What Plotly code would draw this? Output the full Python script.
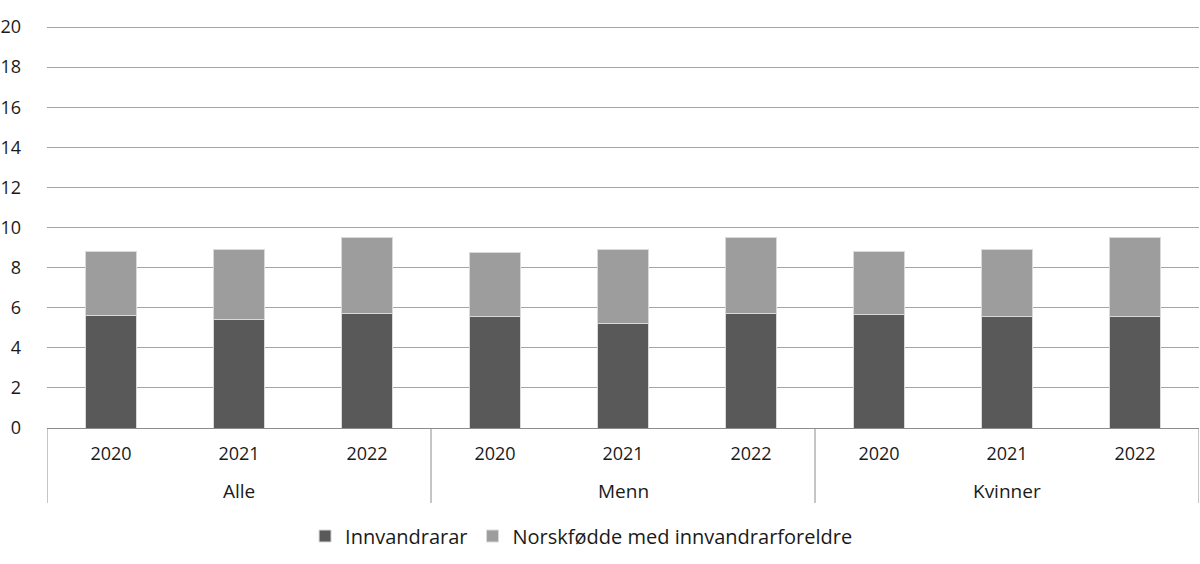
import plotly.graph_objects as go

groups = ["Alle", "Menn", "Kvinner"]
years = ["2020", "2021", "2022"]
innvandrarar = [5.62, 5.4, 5.7, 5.57, 5.2, 5.7, 5.65, 5.58, 5.58]
norskfodde = [3.16, 3.52, 3.8, 3.2, 3.72, 3.8, 3.13, 3.32, 3.92]
series_names = ["Innvandrarar", "Norskfødde med innvandrarforeldre"]
y_ticks = [0, 2, 4, 6, 8, 10, 12, 14, 16, 18, 20]

n_years = len(years)
x_labels = [y for _ in groups for y in years]
x_pos = list(range(len(x_labels)))

FONT = "Open Sans"
TXT = "#1a1a1a"
LINE = "#8c8c8c"
fig = go.Figure()
fig.add_trace(go.Bar(x=x_pos, y=innvandrarar, name=series_names[0], width=0.4,
                     marker=dict(color="#595959", line=dict(color="#d9d9d9", width=1))))
fig.add_trace(go.Bar(x=x_pos, y=norskfodde, name=series_names[1], width=0.4,
                     marker=dict(color="#9d9d9d", line=dict(color="#d9d9d9", width=1))))

# group labels and dividers
for gi, g in enumerate(groups):
    fig.add_annotation(x=gi * n_years + (n_years - 1) / 2, xref="x", y=-0.156, yref="paper",
                       text=g, showarrow=False, font=dict(size=19, color=TXT),
                       yanchor="middle")
for k in range(len(groups) + 1):
    fig.add_shape(type="line", xref="x", yref="paper",
                  x0=k * n_years - 0.5, x1=k * n_years - 0.5, y0=0, y1=-0.186,
                  line=dict(color=LINE, width=1))

fig.update_layout(
    barmode="stack",
    width=1200, height=564,
    margin=dict(l=47, r=1, t=25, b=136, autoexpand=False),
    plot_bgcolor="white", paper_bgcolor="white",
    font=dict(family=FONT, size=18, color=TXT),
    showlegend=True,
    legend=dict(orientation="h", x=0.224, xanchor="left", y=-0.268, yanchor="middle",
                font=dict(size=20), traceorder="normal"),
    xaxis=dict(range=[-0.5, len(x_labels) - 0.5], tickvals=x_pos, ticktext=x_labels,
               showline=True, linecolor=LINE, linewidth=1, ticks="", showgrid=False,
               zeroline=False, automargin=False, ticklabelstandoff=9,
               tickfont=dict(size=18)),
    yaxis=dict(range=[0, 20.1], tickvals=y_ticks, showgrid=True, gridcolor="#a6a6a6",
               gridwidth=1, zeroline=False, showline=False, ticks="", automargin=False,
               ticklabelstandoff=25, tickfont=dict(size=18)),
)

fig.write_html("out.html", config={"displayModeBar": False},
               post_script="document.body.style.margin='0';document.body.style.overflow='hidden';")
